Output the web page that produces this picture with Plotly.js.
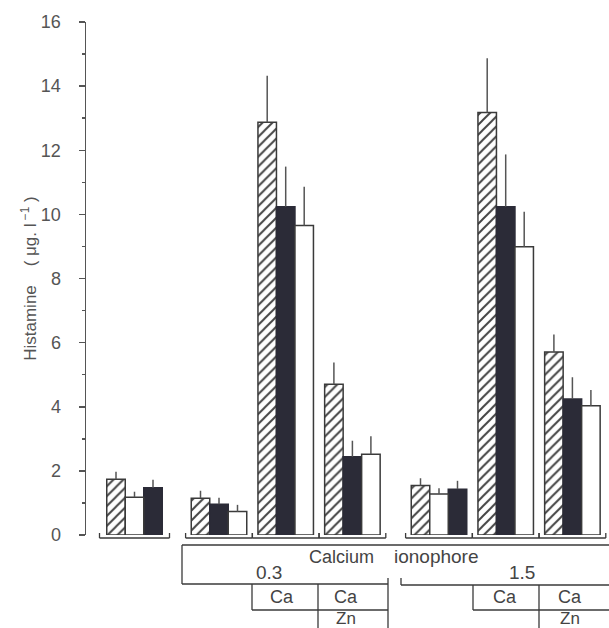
<!DOCTYPE html>
<html>
<head>
<meta charset="utf-8">
<script src="https://cdn.plot.ly/plotly-3.0.1.min.js"></script>
<style>html,body{margin:0;padding:0;background:#fff;}#chart{width:609px;height:628px;}</style>
</head>
<body>
<div id="chart"></div>
<script>
// ---- data ----
const groups = ['Control', '0.3', '0.3 + Ca', '0.3 + Ca + Zn', '1.5', '1.5 + Ca', '1.5 + Ca + Zn'];
const hatchedVals = [1.74, 1.15, 12.87, 4.70, 1.54, 13.18, 5.71];
const hatchedTop  = [1.97, 1.38, 14.32, 5.38, 1.77, 14.87, 6.25];
const blackVals   = [1.47, 0.96, 10.24, 2.44, 1.43, 10.24, 4.24];
const blackTop    = [1.72, 1.16, 11.49, 2.94, 1.69, 11.87, 4.92];
const whiteVals   = [1.18, 0.73, 9.65, 2.52, 1.28, 8.99, 4.03];
const whiteTop    = [1.35, 0.94, 10.86, 3.08, 1.46, 10.08, 4.52];
// slot of each bar inside its group (0 = left)
const hatchedSlot = [0, 0, 0, 0, 0, 0, 0];
const blackSlot   = [2, 1, 1, 1, 2, 1, 1];
const whiteSlot   = [1, 2, 2, 2, 1, 2, 2];
const yTicks = [0, 2, 4, 6, 8, 10, 12, 14, 16];
const doseLabels = ['0.3', '1.5'];
const agentLabels = ['Ca', 'Ca', 'Zn'];

// ---- layout geometry (pixels of the 609x628 page) ----
const L = 86, R = 609, T = 22, B = 535;
const bw = 18.5, spacing = 66.7;
const centers = groups.map((g, i) => i === 0 ? 134.5 : (i <= 3 ? 219 + (i - 1) * spacing : 439 + (i - 4) * spacing));
const X = px => (px - L) / (R - L);
const Y = py => (B - py) / (B - T);
const ink = '#3a3a3a';

function barTrace(name, vals, tops, slots, marker) {
  return {
    type: 'bar', name: name, x: centers, y: vals,
    width: centers.map(() => bw),
    offset: slots.map(s => -1.5 * bw + s * bw),
    marker: marker,
    error_y: {type: 'data', symmetric: false,
      array: tops.map((t, i) => t - vals[i]), arrayminus: vals.map(() => 0),
      width: 0, thickness: 1.5, color: '#555'},
    hoverinfo: 'y', showlegend: false
  };
}
const traces = [
  barTrace('hatched', hatchedVals, hatchedTop, hatchedSlot,
    {color: '#ffffff', line: {color: ink, width: 1.5},
     pattern: {shape: '/', fgcolor: '#444', bgcolor: '#ffffff', size: 7, solidity: 0.28}}),
  barTrace('black', blackVals, blackTop, blackSlot,
    {color: '#2b2b37', line: {color: '#2b2b37', width: 1.5}}),
  barTrace('white', whiteVals, whiteTop, whiteSlot,
    {color: '#ffffff', line: {color: ink, width: 1.5}})
];

const shapes = [];
function seg(x0, y0, x1, y1, w) {
  shapes.push({type: 'line', xref: 'paper', yref: 'paper', x0: X(x0), y0: Y(y0), x1: X(x1), y1: Y(y1),
    line: {color: ink, width: w || 1.3}});
}
// brackets under every group
centers.forEach((c, i) => {
  const h = i === 0 ? 35 : 33.4;
  seg(c - h, 538, c + h, 538);
  seg(c - h, 533, c - h, 538);
  seg(c + h, 533, c + h, 538);
});
// table
seg(182, 545, 609, 545);
seg(182, 545, 182, 584);
seg(182, 584, 388, 584);
seg(388, 578, 388, 628);
seg(401, 585, 609, 585);
seg(401, 578, 401, 585);
seg(252, 584, 252, 610);
seg(252, 610, 388, 610);
seg(318, 584, 318, 628);
seg(473, 585, 473, 610);
seg(473, 610, 609, 610);
seg(539, 585, 539, 628);

const tf = {family: 'Liberation Sans, Arial, sans-serif', color: '#444'};
function ann(text, px, py, size) {
  return {text: text, xref: 'paper', yref: 'paper', x: X(px), y: Y(py), showarrow: false,
    xanchor: 'center', yanchor: 'middle', font: Object.assign({size: size}, tf)};
}
const annotations = [
  ann('Calcium', 341, 557, 18),
  ann('ionophore', 436, 557, 19),
  ann(doseLabels[0], 269, 573, 19),
  ann(doseLabels[1], 522, 573, 19),
  ann(agentLabels[0], 282, 597, 18),
  ann(agentLabels[1], 346, 597, 18),
  ann(agentLabels[2], 346, 618, 17),
  ann(agentLabels[0], 505, 597, 18),
  ann(agentLabels[1], 570, 597, 18),
  ann(agentLabels[2], 570, 618, 17)
];

const layout = {
  width: 609, height: 628,
  margin: {l: L, r: 609 - R, t: T, b: 628 - B},
  paper_bgcolor: '#ffffff', plot_bgcolor: '#ffffff',
  barmode: 'overlay', bargap: 0,
  showlegend: false,
  xaxis: {range: [L, R], visible: false, fixedrange: true},
  yaxis: {
    range: [0, 16], tickvals: yTicks, ticktext: yTicks.map(String),
    ticks: 'outside', ticklen: 6, tickwidth: 1.5, tickcolor: '#555',
    showline: true, linecolor: '#555', linewidth: 1.5,
    showgrid: false, zeroline: false,
    tickfont: {family: tf.family, size: 18, color: '#555'},
    ticklabelstandoff: 14,
    minor: {dtick: 1, tick0: 0, ticks: 'outside', ticklen: 3, tickwidth: 1.5, tickcolor: '#555', showgrid: false},
    title: {text: 'Histamine\u00a0\u00a0\u00a0\u00a0(\u00a0μg.\u00a0l<sup>\u00a0−1</sup>\u00a0)', font: {family: tf.family, size: 17, color: '#555'}, standoff: 0},
    automargin: false, fixedrange: true
  },
  shapes: shapes,
  annotations: annotations
};
Plotly.newPlot('chart', traces, layout, {staticPlot: true, displayModeBar: false});
</script>
</body>
</html>
